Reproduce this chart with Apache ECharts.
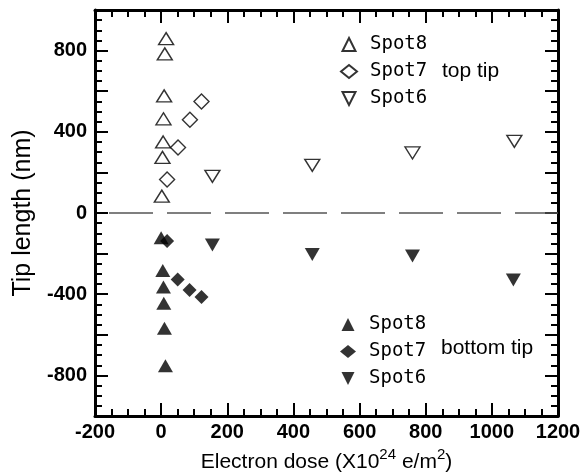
<!DOCTYPE html>
<html>
<head>
<meta charset="utf-8">
<script src="https://cdn.jsdelivr.net/npm/echarts@6/dist/echarts.min.js"></script>
<style>html,body{margin:0;padding:0;background:#fff;}.c{position:absolute;left:0;top:0;width:580px;height:472px;}</style>
</head>
<body>
<div class="c" id="axes"></div>
<div class="c" id="marks"></div>
<script>
// Data
const spot8TopX = [15, 11, 9, 7, 6, 4, 2];
const spot8TopY = [859, 784, 577, 464, 350, 274, 83];
const spot7TopX = [18, 51, 87, 122];
const spot7TopY = [165, 323, 459, 549];
const spot6TopX = [155, 457, 760, 1068];
const spot6TopY = [181, 235, 296, 353];
const spot8BotX = [0, 5, 7, 8, 10, 13];
const spot8BotY = [-122, -283, -365, -445, -568, -753];
const spot7BotX = [18, 50, 86, 122];
const spot7BotY = [-138, -327, -379, -414];
const spot6BotX = [155, 457, 760, 1065];
const spot6BotY = [-158, -204, -212, -330];
const seriesLabels = ['Spot8', 'Spot7', 'Spot6'];
const groupLabels = ['top tip', 'bottom tip'];
const xTitle = 'Electron dose (X10';
const yTitle = 'Tip length (nm)';
const xMin = -200, xMax = 1200, xStep = 200;
const yMin = -1000, yMax = 1000, yStep = 200, yLabelStep = 400;

function pairs(xs, ys) { return xs.map((x, i) => [x, ys[i]]); }

const FONT = 'Liberation Sans, Arial, sans-serif';
const UP = 'path://M1,0L2,2L0,2Z';
const DOWN = 'path://M0,0L2,0L1,2Z';
function grid() { return { left: 95, right: 22, top: 10, bottom: 56, containLabel: false, outerBoundsMode: 'none' }; }

// ---------- Layer 1: frame, ticks, tick labels, axis titles ----------
function common(show) {
  return {
    show: show,
    axisLine: { show: true, onZero: false, lineStyle: { color: '#000', width: 3 } },
    axisTick: { show: true, inside: true, length: 13, lineStyle: { color: '#000', width: 2 } },
    minorTick: { show: true, splitNumber: 4, length: 7, lineStyle: { color: '#000', width: 2 } },
    splitLine: { show: false }, minorSplitLine: { show: false }
  };
}
function xAx(pos, showLabel, show) {
  const a = Object.assign({
    type: 'value', position: pos, min: xMin, max: xMax, interval: xStep,
    axisLabel: { show: showLabel, margin: 6, formatter: v => String(v), fontWeight: 'bold', fontSize: 20, color: '#000', fontFamily: FONT }
  }, common(show));
  if (showLabel) {
    a.name = '{t|' + xTitle + '}{s|24}{t| e/m}{s|2}{t|)}';
    a.nameLocation = 'middle';
    a.nameGap = 28;
    a.nameTextStyle = { rich: {
      t: { fontFamily: FONT, fontSize: 21, color: '#000', lineHeight: 26, verticalAlign: 'bottom' },
      s: { fontFamily: FONT, fontSize: 15, color: '#000', lineHeight: 26, verticalAlign: 'top' }
    } };
  }
  return a;
}
function yAx(pos, showLabel, show) {
  const a = Object.assign({
    type: 'value', position: pos, min: yMin, max: yMax, interval: yStep,
    axisLabel: { show: showLabel, margin: 8, formatter: v => (v % yLabelStep === 0 ? String(v) : ''), fontWeight: 'bold', fontSize: 20, color: '#000', fontFamily: FONT }
  }, common(show));
  if (showLabel) {
    a.name = yTitle;
    a.nameLocation = 'middle';
    a.nameGap = 55;
    a.nameTextStyle = { fontFamily: FONT, fontSize: 25, color: '#000' };
  }
  return a;
}
const axesChart = echarts.init(document.getElementById('axes'));
axesChart.setOption({
  animation: false,
  grid: grid(),
  xAxis: [xAx('bottom', true, true), xAx('top', false, true)],
  yAxis: [yAx('left', true, true), yAx('right', false, true)],
  series: [{ type: 'scatter', data: [] }]
});

// ---------- Layer 2: data marks, zero line, legends ----------
function openStyle() { return { color: '#fff', borderColor: '#000', borderWidth: 1.4 }; }
function fillStyle() { return { color: '#000', borderColor: '#000', borderWidth: 0 }; }
function mkSeries(name, xs, ys, symbol, size, style) {
  return { type: 'scatter', name: name, data: pairs(xs, ys), symbol: symbol, symbolSize: size, itemStyle: style };
}
const series = [
  mkSeries('Spot8 top', spot8TopX, spot8TopY, UP, [15, 12], openStyle()),
  mkSeries('Spot7 top', spot7TopX, spot7TopY, 'diamond', [15, 15], openStyle()),
  mkSeries('Spot6 top', spot6TopX, spot6TopY, DOWN, [15, 12], openStyle()),
  mkSeries('Spot8 bottom', spot8BotX, spot8BotY, UP, [15, 13], fillStyle()),
  mkSeries('Spot7 bottom', spot7BotX, spot7BotY, 'diamond', [14, 14], fillStyle()),
  mkSeries('Spot6 bottom', spot6BotX, spot6BotY, DOWN, [15, 13], fillStyle())
];
series[0].markLine = {
  silent: true, symbol: 'none', label: { show: false },
  lineStyle: { color: '#555', width: 1.6, type: [44, 14], dashOffset: 44 },
  data: [{ yAxis: 0 }]
};
function legend(names, top) {
  return {
    data: names, orient: 'vertical', left: 340, top: top, padding: 0,
    itemWidth: 16, itemHeight: 13, itemGap: 8, selectedMode: false,
    formatter: n => '{a|' + n.split(' ')[0] + '}',
    textStyle: { rich: { a: { fontFamily: 'DejaVu Sans Mono, monospace', fontSize: 19, color: '#000', padding: [0, 0, 0, 8] } } }
  };
}
const marksChart = echarts.init(document.getElementById('marks'));
marksChart.setOption({
  animation: false,
  backgroundColor: 'transparent',
  grid: grid(),
  xAxis: { type: 'value', min: xMin, max: xMax, interval: xStep, show: false },
  yAxis: { type: 'value', min: yMin, max: yMax, interval: yStep, show: false },
  title: [
    { text: groupLabels[0], left: 442, top: 61, padding: 0, textStyle: { fontFamily: FONT, fontSize: 21, fontWeight: 'normal', color: '#000' } },
    { text: groupLabels[1], left: 441, top: 338, padding: 0, textStyle: { fontFamily: FONT, fontSize: 21, fontWeight: 'normal', color: '#000' } }
  ],
  legend: [
    legend(seriesLabels.map(s => s + ' top'), 35),
    legend(seriesLabels.map(s => s + ' bottom'), 315)
  ],
  series: series
});
</script>
</body>
</html>
